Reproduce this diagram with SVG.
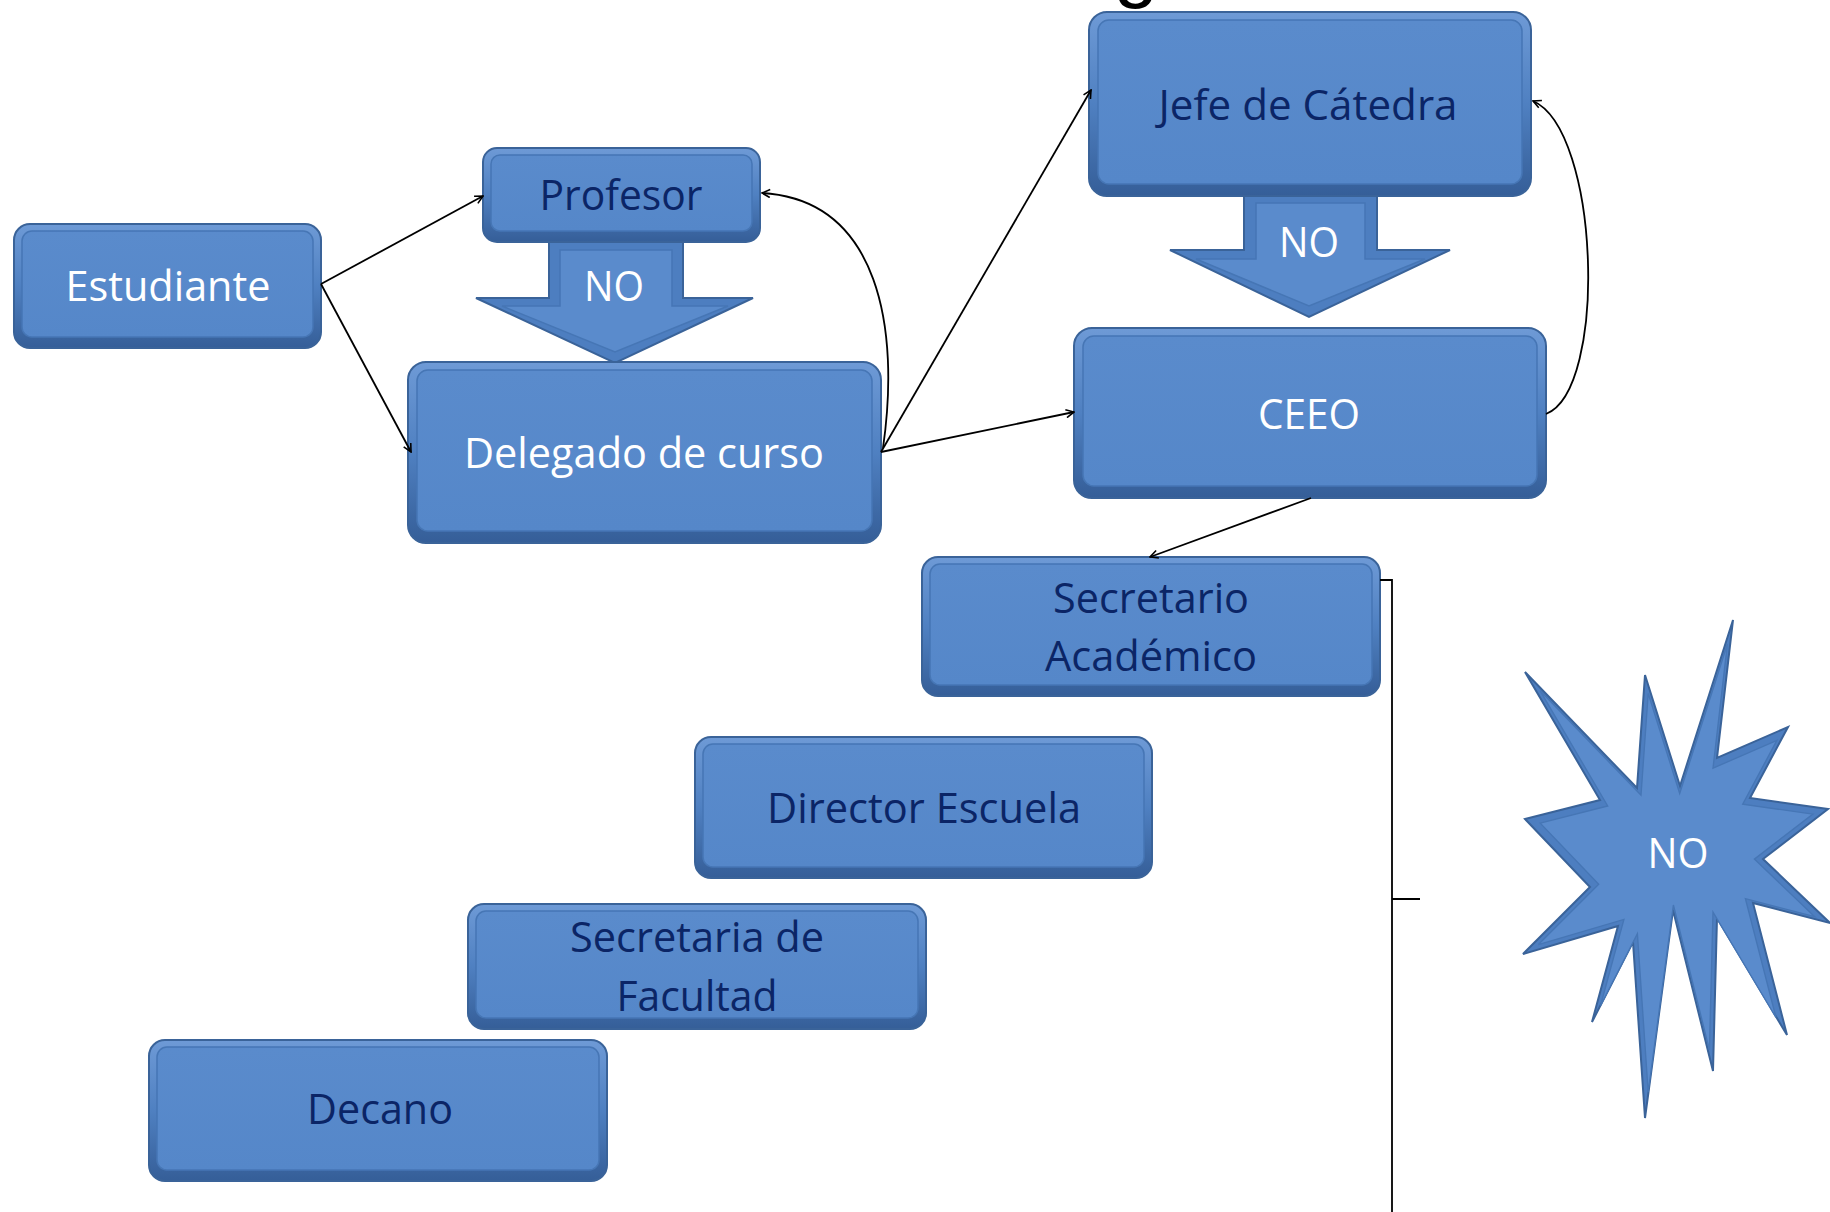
<svg xmlns="http://www.w3.org/2000/svg" width="1830" height="1212" viewBox="0 0 1830 1212">
<defs>
<linearGradient id="gOuter" x1="0" y1="0" x2="0" y2="1">
<stop offset="0" stop-color="#6e9ad6"/>
<stop offset="0.5" stop-color="#4f80c1"/>
<stop offset="1" stop-color="#355e98"/>
</linearGradient>
<linearGradient id="gInner" x1="0" y1="0" x2="0" y2="1">
<stop offset="0" stop-color="#5a8bcc"/>
<stop offset="1" stop-color="#5587c9"/>
</linearGradient>
<marker id="arr" viewBox="0 0 10 10" refX="9" refY="5" markerWidth="10" markerHeight="10" markerUnits="userSpaceOnUse" orient="auto">
<path d="M1,1 L9,5 L1,9" fill="none" stroke="#000" stroke-width="1.6"/>
</marker>
<style>
.outer{fill:url(#gOuter);stroke:#3a6399;stroke-width:2}
.inner{fill:url(#gInner);stroke:#4676b5;stroke-width:1.5}
.t{font-family:"Open Sans","Noto Sans","DejaVu Sans",sans-serif;font-size:42px;text-anchor:middle}
.w{fill:#ffffff}
.d{fill:#0b2566}
.c{fill:none;stroke:#000;stroke-width:1.8}
.ba{fill:#4d7ec0;stroke:#3a6399;stroke-width:2}
.bi{fill:#5a8bcc;stroke:#4676b5;stroke-width:1.5}
</style>
</defs>
<rect width="1830" height="1212" fill="#ffffff"/>
<text x="1136" y="-8" font-family="Liberation Sans,Arial,sans-serif" font-size="80" text-anchor="middle" fill="#000">g</text>

<g id="arrow-no-1">
<polygon class="ba" points="549,242 683,242 683,298 753,298 615,363 476,298 549,298"/>
<polygon class="bi" points="560,250 672,250 672,306 728,306 615,352 502,306 560,306"/>
<text class="t w" x="614" y="301" textLength="60" lengthAdjust="spacingAndGlyphs">NO</text>
</g>
<g id="arrow-no-2">
<polygon class="ba" points="1244,194 1377,194 1377,250 1450,250 1309,317 1170,250 1244,250"/>
<polygon class="bi" points="1256,203 1365,203 1365,259 1425,259 1309,306 1196,259 1256,259"/>
<text class="t w" x="1309" y="257" textLength="60" lengthAdjust="spacingAndGlyphs">NO</text>
</g>

<g id="estudiante">
<rect class="outer" x="14" y="224" width="307" height="124" rx="16"/>
<rect class="inner" x="22" y="231" width="291" height="106" rx="10"/>
<text class="t w" x="168" y="301" textLength="205" lengthAdjust="spacingAndGlyphs">Estudiante</text>
</g>
<g id="profesor">
<rect class="outer" x="483" y="148" width="277" height="94" rx="14"/>
<rect class="inner" x="491" y="155" width="261" height="76" rx="9"/>
<text class="t d" x="621" y="210" textLength="163" lengthAdjust="spacingAndGlyphs">Profesor</text>
</g>
<g id="delegado">
<rect class="outer" x="408" y="362" width="473" height="181" rx="18"/>
<rect class="inner" x="417" y="370" width="455" height="161" rx="11"/>
<text class="t w" x="644" y="468" textLength="360" lengthAdjust="spacingAndGlyphs">Delegado de curso</text>
</g>
<g id="jefe">
<rect class="outer" x="1089" y="12" width="442" height="184" rx="18"/>
<rect class="inner" x="1098" y="20" width="424" height="164" rx="11"/>
<text class="t d" x="1308" y="120" textLength="299" lengthAdjust="spacingAndGlyphs">Jefe de Cátedra</text>
</g>
<g id="ceeo">
<rect class="outer" x="1074" y="328" width="472" height="170" rx="18"/>
<rect class="inner" x="1083" y="336" width="454" height="150" rx="11"/>
<text class="t w" x="1309" y="429" textLength="102" lengthAdjust="spacingAndGlyphs">CEEO</text>
</g>
<g id="secretario">
<rect class="outer" x="922" y="557" width="458" height="139" rx="16"/>
<rect class="inner" x="930" y="564" width="442" height="121" rx="10"/>
<text class="t d" x="1151" y="613" textLength="196" lengthAdjust="spacingAndGlyphs">Secretario</text>
<text class="t d" x="1151" y="671" textLength="212" lengthAdjust="spacingAndGlyphs">Académico</text>
</g>
<g id="director">
<rect class="outer" x="695" y="737" width="457" height="141" rx="16"/>
<rect class="inner" x="703" y="744" width="441" height="123" rx="10"/>
<text class="t d" x="924" y="823" textLength="314" lengthAdjust="spacingAndGlyphs">Director Escuela</text>
</g>
<g id="secretaria">
<rect class="outer" x="468" y="904" width="458" height="125" rx="16"/>
<rect class="inner" x="476" y="911" width="442" height="107" rx="10"/>
<text class="t d" x="697" y="952" textLength="254" lengthAdjust="spacingAndGlyphs">Secretaria de</text>
<text class="t d" x="697" y="1011" textLength="161" lengthAdjust="spacingAndGlyphs">Facultad</text>
</g>
<g id="decano">
<rect class="outer" x="149" y="1040" width="458" height="141" rx="16"/>
<rect class="inner" x="157" y="1047" width="442" height="123" rx="10"/>
<text class="t d" x="380" y="1124" textLength="146" lengthAdjust="spacingAndGlyphs">Decano</text>
</g>

<g id="star-no">
<polygon class="ba" points="1525,819 1600,800 1525,672 1637,788 1645,675 1680,786 1733,620 1717,758 1788,727 1750,798 1828,809 1763,859 1830,923 1753,903 1787,1035 1717,918 1713,1071 1673,910 1645,1118 1633,942 1592,1022 1618,926 1523,954 1590,887"/>
<polygon class="bi" transform="translate(1677,860) scale(0.9) translate(-1677,-860)" points="1525,819 1600,800 1525,672 1637,788 1645,675 1680,786 1733,620 1717,758 1788,727 1750,798 1828,809 1763,859 1830,923 1753,903 1787,1035 1717,918 1713,1071 1673,910 1645,1118 1633,942 1592,1022 1618,926 1523,954 1590,887"/>
<text class="t w" x="1678" y="868" textLength="61" lengthAdjust="spacingAndGlyphs">NO</text>
</g>

<g id="connectors">
<line class="c" x1="321" y1="284" x2="483" y2="196" marker-end="url(#arr)"/>
<line class="c" x1="321" y1="284" x2="411" y2="452" marker-end="url(#arr)"/>
<line class="c" x1="881" y1="452" x2="1091" y2="90" marker-end="url(#arr)"/>
<line class="c" x1="881" y1="452" x2="1074" y2="412" marker-end="url(#arr)"/>
<path class="c" d="M883,448 C900,330 880,200 762,193" marker-end="url(#arr)"/>
<path class="c" d="M1546,414 C1608,390 1600,130 1533,101" marker-end="url(#arr)"/>
<line class="c" x1="1311" y1="498" x2="1150" y2="557" marker-end="url(#arr)"/>
<path class="c" d="M1380,580 L1392,580 L1392,1212 M1392,899 L1420,899"/>
</g>
</svg>
